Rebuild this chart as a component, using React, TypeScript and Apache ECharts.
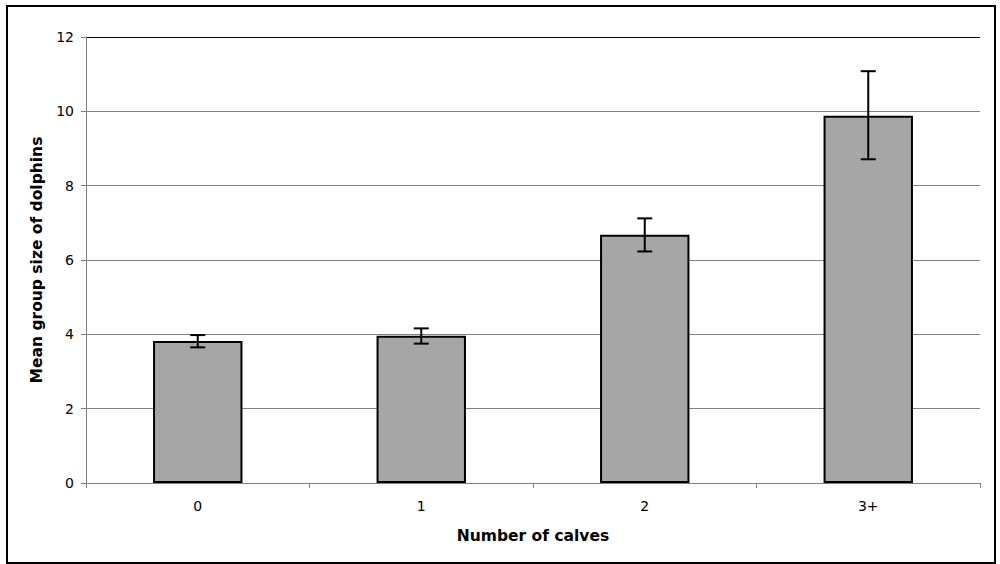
import { useEffect, useRef } from "react";
import * as echarts from "echarts";

const categories = ["0", "1", "2", "3+"];
const meanSize = [3.82, 3.96, 6.68, 9.88];
const errLow = [3.65, 3.75, 6.23, 8.71];
const errHigh = [3.98, 4.16, 7.12, 11.08];
const yTicks = [0, 2, 4, 6, 8, 10, 12];

export default function App() {
  const chartRef = useRef<HTMLDivElement>(null);

  useEffect(() => {
    let chart: echarts.ECharts | null = null;
    if (chartRef.current) {
      chart = echarts.init(chartRef.current, null, { renderer: "svg" });

      chart.setOption({
        animation: false,
        backgroundColor: "#ffffff",
        textStyle: { fontFamily: "DejaVu Sans" },
        grid: { left: 86, right: 20, top: 37, bottom: 81 },
        graphic: [
          {
            type: "rect",
            shape: { x: 7, y: 6, width: 988, height: 557 },
            style: { fill: "none", stroke: "#000", lineWidth: 2 },
            silent: true,
          },
        ],
        xAxis: {
          type: "category",
          data: categories,
          name: "Number of calves",
          nameLocation: "middle",
          nameGap: 45,
          nameTextStyle: { fontSize: 15.5, fontWeight: "bold", color: "#000" },
          axisLine: { lineStyle: { color: "#808080", width: 1 } },
          axisTick: { show: true, length: 5, lineStyle: { color: "#808080" } },
          axisLabel: { fontSize: 14, color: "#000", margin: 16 },
        },
        yAxis: {
          type: "value",
          min: yTicks[0],
          max: yTicks[yTicks.length - 1],
          interval: 2,
          name: "Mean group size of dolphins",
          nameLocation: "middle",
          nameGap: 40,
          nameTextStyle: { fontSize: 15.5, fontWeight: "bold", color: "#000" },
          axisLine: { show: true, lineStyle: { color: "#808080", width: 1 } },
          axisTick: { show: true, length: 5, lineStyle: { color: "#808080" } },
          axisLabel: { fontSize: 14, color: "#000", margin: 12 },
          splitLine: {
            show: true,
            lineStyle: {
              color: ["#808080", "#808080", "#808080", "#808080", "#808080", "#808080", "#000"],
              width: 1,
            },
          },
        },
        series: [
          {
            type: "bar",
            data: meanSize,
            barWidth: "40%",
            itemStyle: { color: "#a6a6a6", borderColor: "#000", borderWidth: 2 },
            z: 2,
          },
          {
            type: "custom",
            z: 5,
            data: categories.map((_, i) => [i, errLow[i], errHigh[i]]),
            renderItem: (params: any, api: any) => {
              const x = api.value(0);
              const lo = api.coord([x, api.value(1)]);
              const hi = api.coord([x, api.value(2)]);
              const half = 7.5;
              const style = { stroke: "#000", lineWidth: 2 };
              return {
                type: "group",
                children: [
                  { type: "line", shape: { x1: lo[0], y1: lo[1], x2: hi[0], y2: hi[1] }, style },
                  { type: "line", shape: { x1: hi[0] - half, y1: hi[1], x2: hi[0] + half, y2: hi[1] }, style },
                  { type: "line", shape: { x1: lo[0] - half, y1: lo[1], x2: lo[0] + half, y2: lo[1] }, style },
                ],
              };
            },
          },
        ],
      });
    }
    return () => {
      if (chart) chart.dispose();
    };
  }, []);

  return (
    <div
      ref={chartRef}
      style={{ position: "absolute", left: 0, top: 0, width: 1000, height: 564 }}
    />
  );
}
